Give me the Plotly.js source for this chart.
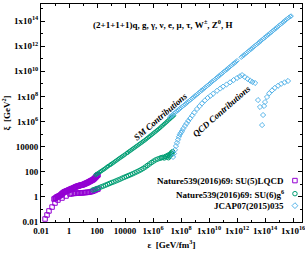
<!DOCTYPE html>
<html><head><meta charset="utf-8">
<script src="https://cdn.plot.ly/plotly-3.0.1.min.js"></script>
<style>html,body{margin:0;padding:0;background:#fff}#c{width:305px;height:255px}</style>
</head><body><div id="c"></div>
<script>
// Values, stored as log10(value)
const su3UpperLogX = [-1.07,-1.0,-0.95,-0.9,-0.85,-0.8,-0.75,-0.7,-0.64,-0.6,-0.55,-0.5,-0.45,-0.4,-0.35,-0.3,-0.25,-0.2,-0.14,-0.1,-0.05,0.0,0.05,0.1,0.15,0.2,0.29,0.35,0.4,0.45,0.5,0.55,0.6,0.65,0.7,0.75,0.8,0.85,0.9,0.95,1.0,1.05,1.1,1.15,1.2,1.25,1.3,1.35,1.4,1.45,1.5,1.55,1.6,1.65,1.71,1.75,1.8,1.85,1.9,1.95,2.0,2.04,2.07];
const su3UpperLogY = [-0.17,-0.12,-0.1,-0.04,0.0,0.02,0.05,0.08,0.1,0.15,0.2,0.25,0.3,0.34,0.38,0.41,0.43,0.46,0.48,0.5,0.53,0.55,0.58,0.6,0.63,0.66,0.7,0.72,0.75,0.78,0.8,0.83,0.85,0.86,0.88,0.9,0.92,0.93,0.94,0.96,0.97,1.0,1.02,1.05,1.07,1.1,1.12,1.15,1.18,1.21,1.24,1.27,1.3,1.33,1.36,1.4,1.45,1.5,1.56,1.62,1.68,1.72,1.76];
const su3LowerLogX = [-1.71,-1.57,-1.43,-1.21,-1.0,-0.79,-0.5,-0.21,0.07,0.18,0.3,0.4,0.5,0.6,0.7,0.8,0.9,1.0,1.1,1.2,1.3,1.4,1.5,1.6,1.7,1.8,1.9,2.0,2.07];
const su3LowerLogY = [-1.76,-1.44,-1.12,-0.81,-0.49,-0.25,-0.09,0.07,0.23,0.25,0.27,0.28,0.29,0.3,0.31,0.31,0.32,0.33,0.34,0.35,0.36,0.37,0.39,0.42,0.45,0.5,0.55,0.6,0.63];
const su6UpperLogX = [1.9,2.0,2.1,2.2,2.3,2.4,2.5,2.6,2.7,2.8,2.93,3.0,3.1,3.2,3.3,3.4,3.5,3.6,3.7,3.8,3.9,4.0,4.14,4.2,4.3,4.4,4.5,4.6,4.7,4.8,4.9,5.0,5.1,5.2,5.29,5.4,5.5,5.6,5.7,5.8,5.9,6.0,6.1,6.2,6.3,6.4,6.5,6.6,6.7,6.8,6.9,7.0,7.1,7.2,7.3,7.4,7.5];
const su6UpperLogY = [1.75,1.83,1.9,1.98,2.05,2.13,2.2,2.28,2.37,2.45,2.54,2.6,2.67,2.75,2.83,2.91,2.99,3.07,3.15,3.22,3.3,3.38,3.49,3.54,3.62,3.7,3.78,3.86,3.94,4.02,4.1,4.18,4.26,4.34,4.42,4.5,4.59,4.68,4.77,4.86,4.95,5.04,5.13,5.22,5.31,5.4,5.5,5.6,5.7,5.8,5.9,6.0,6.1,6.2,6.3,6.4,6.5];
const su6LowerLogX = [1.71,1.85,2.0,2.15,2.3,2.45,2.6,2.75,2.9,3.05,3.2,3.35,3.5,3.65,3.8,3.95,4.1,4.25,4.4,4.55,4.7,4.85,5.0,5.15,5.3,5.45,5.6,5.75,5.9,6.05,6.2,6.35,6.5,6.6,6.7,6.8,6.9,7.0,7.05,7.1,7.15,7.2,7.25,7.3,7.35,7.4];
const su6LowerLogY = [0.55,0.6,0.67,0.73,0.8,0.86,0.93,1.0,1.07,1.14,1.2,1.27,1.34,1.41,1.49,1.56,1.63,1.7,1.77,1.84,1.92,2.0,2.08,2.17,2.27,2.38,2.5,2.62,2.74,2.85,2.95,3.02,3.08,3.12,3.15,3.1,3.22,3.18,3.3,3.12,3.35,3.25,3.4,3.5,3.42,3.6];
const jcapUpperLogX = [7.2,7.3,7.4,7.5,7.6,7.7,7.8,7.9,8.0,8.1,8.2,8.3,8.4,8.5,8.6,8.7,8.8,8.9,9.0,9.1,9.2,9.3,9.4,9.5,9.6,9.7,9.8,9.9,10.0,10.1,10.2,10.3,10.4,10.5,10.6,10.7,10.8,10.9,11.0,11.1,11.2,11.3,11.4,11.5,11.6,11.7,11.8,11.9,12.0,12.3,12.4,12.5,12.6,12.7,12.8,12.9,13.0,13.1,13.2,13.3,13.4,13.5,13.6,13.7,13.8,13.9,14.0,14.1,14.2,14.3,14.4,14.5,14.6,14.7,14.8,14.9,15.0,15.1,15.2,15.3,15.4,15.5,15.6,15.7,15.8,15.86];
const jcapUpperLogY = [6.35,6.44,6.54,6.64,6.73,6.83,6.92,7.01,7.1,7.2,7.29,7.38,7.48,7.57,7.66,7.76,7.85,7.94,8.04,8.13,8.22,8.32,8.41,8.5,8.6,8.69,8.78,8.88,8.97,9.06,9.16,9.25,9.34,9.44,9.53,9.62,9.72,9.81,9.9,10.0,10.09,10.18,10.28,10.37,10.46,10.56,10.65,10.74,10.84,11.12,11.21,11.3,11.4,11.49,11.58,11.68,11.77,11.86,11.96,12.05,12.14,12.24,12.33,12.42,12.52,12.61,12.7,12.8,12.89,12.98,13.08,13.17,13.26,13.36,13.45,13.54,13.64,13.73,13.82,13.92,14.01,14.1,14.2,14.29,14.36,14.4];
const jcapLowerLogX = [7.43,7.5,7.57,7.64,7.71,7.78,7.85,7.92,8.0,8.07,8.17,8.28,8.4,8.52,8.65,8.8,8.95,9.14,9.32,9.5,9.7,9.9,10.1,10.3,10.57,10.8,11.0,11.25,11.5,11.75,12.0,12.2,12.36,12.55,12.75,12.95,13.1,13.29,13.5,13.64,13.93,13.86,13.79,14.0,14.14,14.3,14.5,14.7,14.93,15.15,15.4,15.64];
const jcapLowerLogY = [3.18,3.45,3.75,4.05,4.3,4.55,4.78,4.98,5.12,5.25,5.45,5.65,5.85,6.05,6.25,6.48,6.72,7.0,7.22,7.45,7.68,7.88,8.05,8.22,8.45,8.63,8.78,8.95,9.12,9.3,9.47,9.6,9.7,9.55,9.4,9.25,9.15,9.07,7.71,7.16,7.24,6.52,5.72,7.55,7.95,8.25,8.48,8.68,8.85,9.0,9.12,9.23];
const xTickVals = [0.01,1,100,1e4,1e6,1e8,1e10,1e12,1e14,1e16];
const xTickText = ['0.01','1','100','10000','1x10<sup>6</sup>','1x10<sup>8</sup>','1x10<sup>10</sup>','1x10<sup>12</sup>','1x10<sup>14</sup>','1x10<sup>16</sup>'];
const yTickVals = [0.01,1,100,1e4,1e6,1e8,1e10,1e12,1e14];
const yTickText = ['0.01','1','100','10000','1x10<sup>6</sup>','1x10<sup>8</sup>','1x10<sup>10</sup>','1x10<sup>12</sup>','1x10<sup>14</sup>'];
const seriesNames = ['Nature539(2016)69: SU(5)LQCD','Nature539(2016)69: SU(6)g<sup>6</sup>','JCAP07(2015)035'];
const seriesColors = ['#9400d3','#009e73','#56b4e9'];
const seriesSymbols = ['square-open','circle-open','diamond-open'];

const p = a => a.map(v => Math.pow(10, v));
function tr(lx, ly, i, sz){
  return {x:p(lx), y:p(ly), type:'scatter', mode:'markers', showlegend:false,
    marker:{symbol:seriesSymbols[i], color:seriesColors[i], size:sz, line:{width:1, color:seriesColors[i]}}};
}
const data = [
  tr(su3UpperLogX, su3UpperLogY, 0, 4.5),
  tr(su3LowerLogX, su3LowerLogY, 0, 4.5),
  tr(su6UpperLogX, su6UpperLogY, 1, 3.5),
  tr(su6LowerLogX, su6LowerLogY, 1, 4.5),
  tr(jcapUpperLogX, jcapUpperLogY, 2, 3.5),
  tr(jcapLowerLogX, jcapLowerLogY, 2, 4)
];
// legend keys
const keyY = [0.19, 0.13, 0.075];
seriesNames.forEach((n,i)=>{
  data.push({x:[0.973], y:[keyY[i]], xaxis:'x2', yaxis:'y2', type:'scatter', mode:'markers', showlegend:false,
    marker:{symbol:seriesSymbols[i], color:seriesColors[i], size:4.5, line:{width:1, color:seriesColors[i]}}});
});
const F = 'Liberation Serif, Times New Roman, serif';
const ann = seriesNames.map((n,i)=>({xref:'paper', yref:'paper', x:0.94, y:keyY[i], xanchor:'right', yanchor:'middle',
  text:'<b>'+n+'</b>', showarrow:false, font:{family:F, size:9, color:'#000'}}));
ann.push({xref:'paper', yref:'paper', x:0.467, y:0.908, xanchor:'center', yanchor:'middle', text:'<b>(2+1+1+1)q, g, γ, ν, e, μ, τ, W<sup>±</sup>, Z<sup>0</sup>, H</b>', showarrow:false, font:{family:F, size:9, color:'#000'}});
ann.push({xref:'paper', yref:'paper', x:0.456, y:0.482, xanchor:'center', yanchor:'middle', text:'<b><i>SM Contributions</i></b>', textangle:-41, showarrow:false, font:{family:F, size:9, color:'#000'}});
ann.push({xref:'paper', yref:'paper', x:0.693, y:0.509, xanchor:'center', yanchor:'middle', text:'<b><i>QCD Contributions</i></b>', textangle:-41, showarrow:false, font:{family:F, size:9, color:'#000'}});

const ax = {type:'log', showgrid:false, zeroline:false, showline:true, linecolor:'#000', linewidth:1, mirror:'allticks',
  ticks:'inside', ticklen:4, tickcolor:'#000', ticklabeloverflow:'allow', tickfont:{family:F, size:9, color:'#000'}};
const layout = {
  width:305, height:255, margin:{l:41, r:3, t:4, b:33},
  paper_bgcolor:'#fff', plot_bgcolor:'#fff', showlegend:false,
  font:{family:F, color:'#000'},
  xaxis:Object.assign({}, ax, {range:[-2,16.64], tickvals:xTickVals, ticktext:xTickText.map(t=>'<b>'+t+'</b>'),
    minor:{dtick:1, ticks:'inside', ticklen:2, tickcolor:'#000'},
    title:{text:'<b>ε  [GeV/fm<sup>3</sup>]</b>', font:{family:F, size:9}, standoff:6}}),
  yaxis:Object.assign({}, ax, {range:[-2,15.36], tickvals:yTickVals, ticktext:yTickText.map(t=>'<b>'+t+'</b>'),
    minor:{dtick:1, ticks:'inside', ticklen:2, tickcolor:'#000'},
    title:{text:'<b>ξ  [GeV<sup>2</sup>]</b>', font:{family:F, size:9}, standoff:4}}),
  xaxis2:{overlaying:'x', range:[0,1], visible:false, fixedrange:true},
  yaxis2:{overlaying:'y', range:[0,1], visible:false, fixedrange:true},
  annotations:ann
};
Plotly.newPlot('c', data, layout, {displayModeBar:false, staticPlot:true});
</script></body></html>
